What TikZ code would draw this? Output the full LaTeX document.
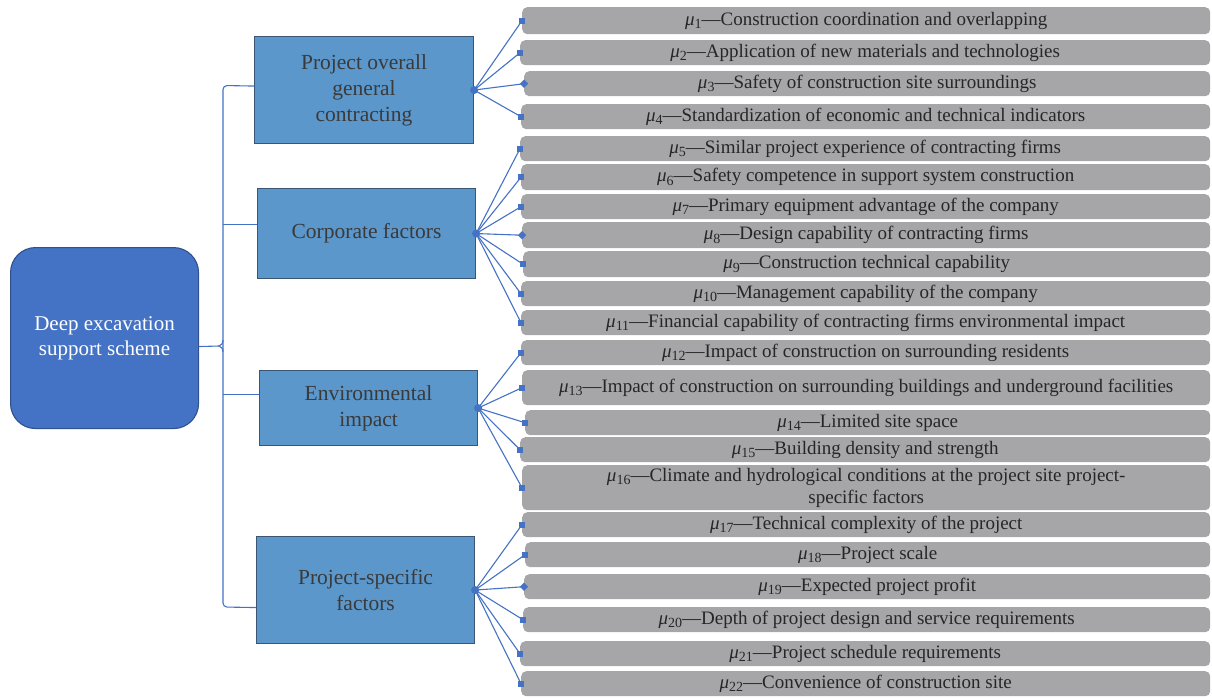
\documentclass[tikz,border=0pt]{standalone}
\usepackage{fontspec}
\setmainfont{Liberation Serif}
\usetikzlibrary{arrows.meta}
\definecolor{rootfill}{HTML}{4472C4}
\definecolor{rootdraw}{HTML}{2F528F}
\definecolor{midfill}{HTML}{5B97CB}
\definecolor{middraw}{HTML}{3A5674}
\definecolor{midtext}{HTML}{3A3A3A}
\definecolor{grayfill}{HTML}{A6A6A8}
\definecolor{graytext}{HTML}{262626}
\definecolor{linecol}{HTML}{4472C4}
\newcommand{\mkbox}[5]{\node[gbox, minimum width={1210pt-#2pt}, minimum height={#4pt-#3pt}] (#1) at (#2,#3) {#5};}
\newcommand{\mmu}[1]{\textit{μ}\raisebox{-0.4ex}{\fontsize{14}{14}\selectfont #1}—}
\begin{document}
\begin{tikzpicture}[x=1pt,y=-1pt,
  gbox/.style={fill=grayfill, rounded corners=5pt, anchor=north west, inner sep=0pt, align=center,
    font=\fontsize{19}{22}\selectfont, text=graytext},
  midbox/.style={fill=midfill, draw=middraw, line width=1.1pt, anchor=north west, inner sep=0pt, align=center,
    font=\fontsize{21.5}{26}\selectfont, text=midtext},
  rootbox/.style={fill=rootfill, draw=rootdraw, line width=1.1pt, rounded corners=25pt, anchor=north west,
    inner sep=0pt, align=center, text=white, font=\fontsize{21}{25}\selectfont},
  conn/.style={draw=linecol, line width=1.1pt},
  brk/.style={draw=linecol, line width=1.1pt},
  dot/.style={fill=linecol}
]
\useasboundingbox (0,0) rectangle (1212,697);

% root
\node[rootbox, minimum width=188pt, minimum height=181pt] (root) at (10,247) {Deep excavation\\support scheme};

% middle nodes
\node[midbox, minimum width=219pt, minimum height=107pt] (A) at (254,36) {Project overall\\general\\contracting};
\node[midbox, minimum width=218pt, minimum height=90pt] (B) at (257,188) {Corporate factors};
\node[midbox, minimum width=218pt, minimum height=75pt] (C) at (259,370) {Environmental\\impact};
\node[midbox, minimum width=218pt, minimum height=107pt] (D) at (256,536) {Project-specific\\factors};

% gray boxes
\mkbox{g1}{522}{7}{34}{\mmu{1}Construction coordination and overlapping}
\mkbox{g2}{520}{40}{65}{\mmu{2}Application of new materials and technologies}
\mkbox{g3}{524}{71}{96}{\mmu{3}Safety of construction site surroundings}
\mkbox{g4}{521}{104}{129}{\mmu{4}Standardization of economic and technical indicators}
\mkbox{g5}{520}{136}{161}{\mmu{5}Similar project experience of contracting firms}
\mkbox{g6}{521}{164}{190}{\mmu{6}Safety competence in support system construction}
\mkbox{g7}{521}{194}{219}{\mmu{7}Primary equipment advantage of the company}
\mkbox{g8}{522}{222}{248}{\mmu{8}Design capability of contracting firms}
\mkbox{g9}{523}{251}{277}{\mmu{9}Construction technical capability}
\mkbox{g10}{521}{281}{306}{\mmu{10}Management capability of the company}
\mkbox{g11}{521}{310}{335}{\mmu{11}Financial capability of contracting firms environmental impact}
\mkbox{g12}{521}{340}{365}{\mmu{12}Impact of construction on surrounding residents}
\mkbox{g13}{522}{370}{405}{\mmu{13}Impact of construction on surrounding buildings and underground facilities}
\mkbox{g14}{525}{410}{435}{\mmu{14}Limited site space}
\mkbox{g15}{520}{437}{462}{\mmu{15}Building density and strength}
\mkbox{g16}{522}{465}{510}{\mmu{16}Climate and hydrological conditions at the project site project-\\specific factors}
\mkbox{g17}{522}{512}{537}{\mmu{17}Technical complexity of the project}
\mkbox{g18}{525}{542}{567}{\mmu{18}Project scale}
\mkbox{g19}{524}{574}{599}{\mmu{19}Expected project profit}
\mkbox{g20}{523}{607}{632}{\mmu{20}Depth of project design and service requirements}
\mkbox{g21}{520}{641}{666}{\mmu{21}Project schedule requirements}
\mkbox{g22}{521}{671}{696}{\mmu{22}Convenience of construction site}

% bracket
\draw[brk, rounded corners=4pt] ([yshift=4pt]A.west) -- (223,85.5) -- (223,607) -- ([yshift=-17.5pt]D.west);
\draw[brk] ([yshift=9pt]B.west) -- ++(-34,0);
\draw[brk] ([yshift=13.5pt]C.west) -- ++(-36,0);
\draw[brk] ([yshift=-8.5pt]root.east) -- (219,346);
\draw[brk] (223,340) .. controls (223,344) and (221,345) .. (219,346) .. controls (221,347) and (223,348) .. (223,352);

% connectors
\foreach \s/\t in {A/g1,A/g2,A/g3,A/g4,B/g5,B/g6,B/g7,B/g8,B/g9,B/g10,B/g11,C/g12,C/g13,C/g14,C/g15,C/g16,D/g17,D/g18,D/g19,D/g20,D/g21,D/g22}
  \draw[conn] (\s.east) -- (\t.west);

% end markers
\foreach \t in {g1,g2,g4,g5,g6,g7,g9,g10,g11,g12,g13,g14,g15,g16,g17,g18,g20,g21,g22}
  \fill[dot] ([shift={(-3.2pt,-3.2pt)}]\t.west) rectangle ([shift={(3.2pt,3.2pt)}]\t.west);
\foreach \t in {g3,g8,g19}
  \fill[dot] ([xshift=-4.2pt]\t.west) -- ([yshift=4.2pt]\t.west) -- ([xshift=4.2pt]\t.west) -- ([yshift=-4.2pt]\t.west) -- cycle;

\fill[dot] (A.east) circle (4pt);
\fill[dot] (B.east) circle (4pt);
\fill[dot] (C.east) circle (4pt);
\fill[dot] (D.east) circle (4pt);
\end{tikzpicture}
\end{document}
